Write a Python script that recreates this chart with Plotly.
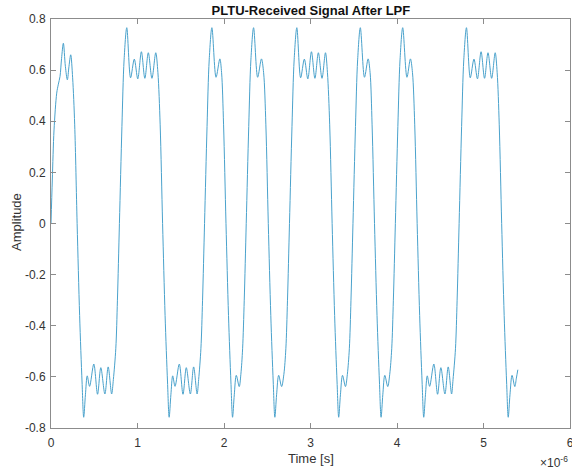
import plotly.graph_objects as go

# Values (time in units of 1e-6 s)
time_us = [
    0.000, 0.015, 0.035, 0.066, 0.085, 0.104, 0.122, 0.143, 0.166, 0.189, 0.208, 0.228, 0.250,
    0.274, 0.302, 0.331, 0.359, 0.378,
    0.398, 0.419, 0.446, 0.495, 0.538, 0.576, 0.623, 0.661, 0.701, 0.721, 0.749, 0.768, 0.791,
    0.820, 0.845, 0.876,
    0.920, 0.963, 1.003, 1.045, 1.085, 1.125, 1.167, 1.211, 1.236, 1.262, 1.290, 1.319, 1.347, 1.366,
    1.386, 1.407, 1.434, 1.483, 1.526, 1.564, 1.611, 1.649, 1.689, 1.707, 1.733, 1.752, 1.775,
    1.804, 1.829, 1.860,
    1.908, 1.952, 1.972, 1.995, 2.023, 2.052, 2.080, 2.099,
    2.119, 2.142, 2.176, 2.195, 2.215, 2.234, 2.257, 2.286, 2.311, 2.342,
    2.389, 2.433, 2.458, 2.484, 2.512, 2.541, 2.569, 2.588,
    2.608, 2.632, 2.666, 2.692, 2.715, 2.734, 2.757, 2.786, 2.811, 2.842,
    2.886, 2.929, 2.969, 3.011, 3.051, 3.091, 3.133, 3.173, 3.196, 3.222, 3.250, 3.279, 3.307, 3.326,
    3.346, 3.370, 3.404, 3.426, 3.449, 3.468, 3.491, 3.520, 3.545, 3.576,
    3.624, 3.666, 3.689, 3.712, 3.740, 3.769, 3.797, 3.816,
    3.836, 3.859, 3.893, 3.916, 3.939, 3.958, 3.981, 4.010, 4.035, 4.066,
    4.115, 4.155, 4.179, 4.205, 4.233, 4.262, 4.290, 4.309,
    4.329, 4.350, 4.377, 4.426, 4.469, 4.507, 4.554, 4.592, 4.631, 4.648, 4.676, 4.695, 4.718,
    4.747, 4.772, 4.803,
    4.847, 4.890, 4.930, 4.972, 5.012, 5.052, 5.094, 5.135, 5.158, 5.182, 5.210, 5.239, 5.267, 5.286,
    5.306, 5.330, 5.362, 5.380, 5.397,
]

amplitude = [
    0.000, 0.170, 0.366, 0.510, 0.545, 0.575, 0.645, 0.705, 0.615, 0.562, 0.615, 0.660, 0.570,
    0.386, 0.000, -0.360, -0.620, -0.758,
    -0.670, -0.596, -0.637, -0.550, -0.668, -0.564, -0.667, -0.561, -0.667, -0.610, -0.490, -0.300, 0.000,
    0.380, 0.640, 0.766,
    0.570, 0.643, 0.566, 0.672, 0.568, 0.668, 0.568, 0.668, 0.590, 0.386, 0.000, -0.360, -0.620, -0.758,
    -0.670, -0.596, -0.637, -0.550, -0.668, -0.564, -0.667, -0.561, -0.667, -0.610, -0.490, -0.300, 0.000,
    0.380, 0.640, 0.766,
    0.572, 0.644, 0.590, 0.386, 0.000, -0.360, -0.620, -0.758,
    -0.670, -0.594, -0.638, -0.590, -0.490, -0.300, 0.000, 0.380, 0.640, 0.766,
    0.572, 0.644, 0.590, 0.386, 0.000, -0.360, -0.620, -0.758,
    -0.670, -0.594, -0.638, -0.590, -0.490, -0.300, 0.000, 0.380, 0.640, 0.766,
    0.570, 0.643, 0.566, 0.672, 0.568, 0.668, 0.568, 0.668, 0.590, 0.386, 0.000, -0.360, -0.620, -0.758,
    -0.670, -0.594, -0.638, -0.590, -0.490, -0.300, 0.000, 0.380, 0.640, 0.766,
    0.572, 0.644, 0.590, 0.386, 0.000, -0.360, -0.620, -0.758,
    -0.670, -0.594, -0.638, -0.590, -0.490, -0.300, 0.000, 0.380, 0.640, 0.766,
    0.572, 0.644, 0.590, 0.386, 0.000, -0.360, -0.620, -0.758,
    -0.670, -0.596, -0.637, -0.550, -0.668, -0.564, -0.667, -0.561, -0.667, -0.610, -0.490, -0.300, 0.000,
    0.380, 0.640, 0.766,
    0.570, 0.643, 0.566, 0.672, 0.568, 0.668, 0.568, 0.668, 0.590, 0.386, 0.000, -0.360, -0.620, -0.758,
    -0.670, -0.594, -0.638, -0.605, -0.572,
]

x_ticks = [0, 1, 2, 3, 4, 5, 6]
x_tick_labels = ["0", "1", "2", "3", "4", "5", "6"]
y_ticks = [-0.8, -0.6, -0.4, -0.2, 0, 0.2, 0.4, 0.6, 0.8]
y_tick_labels = ["-0.8", "-0.6", "-0.4", "-0.2", "0", "0.2", "0.4", "0.6", "0.8"]

FONT = "Liberation Sans, Arial, Helvetica, sans-serif"
AXIS_COLOR = "#8c8c8c"
TEXT_COLOR = "#333333"

fig = go.Figure()
fig.add_trace(go.Scatter(
    x=time_us, y=amplitude, mode="lines",
    line=dict(color="#4aa2cc", width=1, shape="spline", smoothing=0.9),
    showlegend=False, hoverinfo="skip",
))

axis_common = dict(
    showgrid=False, zeroline=False, showline=True, linecolor=AXIS_COLOR, linewidth=1,
    mirror="ticks", ticks="inside", ticklen=5, tickcolor=AXIS_COLOR, tickwidth=1,
    tickfont=dict(family=FONT, size=12, color=TEXT_COLOR), automargin=False,
    ticklabeloverflow="allow",
)

fig.update_layout(
    width=572, height=470,
    margin=dict(l=51, r=2, t=19, b=42),
    paper_bgcolor="white", plot_bgcolor="white",
    font=dict(family=FONT, color=TEXT_COLOR),
    title=dict(text="<b>PLTU-Received Signal After LPF</b>", x=0.5435, xanchor="center",
               y=0.9787, yanchor="middle", font=dict(family=FONT, size=13, color="#111111")),
    xaxis=dict(range=[0, 6], tickvals=x_ticks, ticktext=x_tick_labels, ticklabelstandoff=4,
               **axis_common),
    yaxis=dict(range=[-0.8, 0.8], tickvals=y_ticks, ticktext=y_tick_labels, ticklabelstandoff=2,
               **axis_common),
    annotations=[
        dict(text="Time [s]", xref="paper", yref="paper", x=0.5, y=-0.0755,
             xanchor="center", yanchor="middle", showarrow=False,
             font=dict(family=FONT, size=13, color=TEXT_COLOR)),
        dict(text="Amplitude", xref="paper", yref="paper", x=-0.0655, y=0.5037, textangle=-90,
             xanchor="center", yanchor="middle", showarrow=False,
             font=dict(family=FONT, size=13, color=TEXT_COLOR)),
        dict(text="\u00d710<sup>-6</sup>", xref="paper", yref="paper", x=1.0, y=-0.082,
             xanchor="right", yanchor="middle", showarrow=False,
             font=dict(family=FONT, size=12, color=TEXT_COLOR)),
    ],
)

fig.write_html("out.html", config={"displayModeBar": False},
               post_script="document.body.style.margin='0';")
